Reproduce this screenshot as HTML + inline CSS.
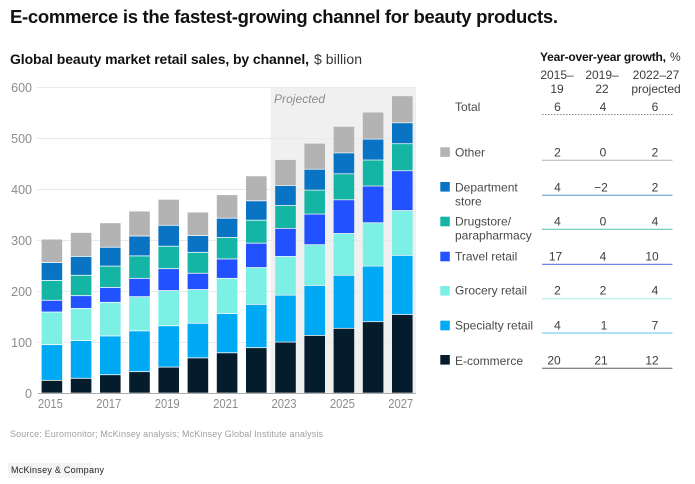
<!DOCTYPE html>
<html lang="en">
<head>
<meta charset="utf-8">
<title>E-commerce is the fastest-growing channel for beauty products</title>
<style>
html,body{margin:0;padding:0;background:#fff;width:695px;height:484px;overflow:hidden}
svg{display:block;font-family:"Liberation Sans",Arial,sans-serif}
.lab{font-size:12px;fill:#4a4a4a}
.val{font-size:12px;fill:#3c3c3c;text-anchor:middle}
.tick{font-size:12.5px;fill:#8c8c8c}
</style>
</head>
<body>
<svg id="chart" width="695" height="484" viewBox="0 0 695 484" xmlns="http://www.w3.org/2000/svg">
  <text x="10" y="23" font-size="18.5" font-weight="bold" fill="#111" textLength="548" lengthAdjust="spacing">E-commerce is the fastest-growing channel for beauty products.</text>
  <text x="10" y="64" font-size="14" font-weight="bold" fill="#111" textLength="299" lengthAdjust="spacing">Global beauty market retail sales, by channel,</text>
  <text x="314" y="64" font-size="14" fill="#333" textLength="48" lengthAdjust="spacing">$ billion</text>

  <rect x="270.7" y="88" width="145.3" height="305.5" fill="#f0f0f0"/>
  <g id="grid"></g>
  <g id="bars"></g>
  <g id="yticks"></g>
  <g id="xticks"></g>
  <line x1="38" x2="416" y1="393.5" y2="393.5" stroke="#ababab" stroke-width="1"/>
  <text x="274" y="103" font-size="12" font-style="italic" fill="#8c8c8c" textLength="51" lengthAdjust="spacing">Projected</text>

  <g>
    <text x="540" y="61" font-size="12" font-weight="bold" fill="#111" textLength="126" lengthAdjust="spacing">Year-over-year growth,</text>
    <text x="670" y="61" font-size="12" fill="#333">%</text>
    <text class="val" x="557" y="79">2015–</text>
    <text class="val" x="557" y="93">19</text>
    <text class="val" x="602" y="79">2019–</text>
    <text class="val" x="602" y="93">22</text>
    <text class="val" x="656" y="79">2022–27</text>
    <text class="val" x="656" y="93">projected</text>

    <text class="lab" x="455" y="111">Total</text>
    <text class="val" x="557.5" y="111">6</text>
    <text class="val" x="603" y="111">4</text>
    <text class="val" x="655" y="111">6</text>
    <line x1="542" x2="672.5" y1="114.5" y2="114.5" stroke="#8a8a8a" stroke-width="1" stroke-dasharray="1.5 1.5"/>

    <rect x="440.3" y="147.3" width="9.5" height="9.6" fill="#b3b3b3"/>
    <text class="lab" x="455" y="156.5">Other</text>
    <text class="val" x="557.5" y="156.5">2</text>
    <text class="val" x="603" y="156.5">0</text>
    <text class="val" x="655" y="156.5">2</text>
    <line x1="542" x2="672.5" y1="160.3" y2="160.3" stroke="#b3b3b3" stroke-width="1"/>

    <rect x="440.3" y="182" width="9.5" height="9.6" fill="#0a74c4"/>
    <text class="lab" x="455" y="191.5">Department</text>
    <text class="lab" x="455" y="205.5">store</text>
    <text class="val" x="557.5" y="191.5">4</text>
    <text class="val" x="601" y="191.5">−2</text>
    <text class="val" x="655" y="191.5">2</text>
    <line x1="542" x2="672.5" y1="195.2" y2="195.2" stroke="#4f97c9" stroke-width="1"/>

    <rect x="440.3" y="216.7" width="9.5" height="9.6" fill="#14b5a5"/>
    <text class="lab" x="455" y="225.5">Drugstore/</text>
    <text class="lab" x="455" y="239.5">parapharmacy</text>
    <text class="val" x="557.5" y="225.5">4</text>
    <text class="val" x="603" y="225.5">0</text>
    <text class="val" x="655" y="225.5">4</text>
    <line x1="542" x2="672.5" y1="229.3" y2="229.3" stroke="#55bdb3" stroke-width="1"/>

    <rect x="440.3" y="251.7" width="9.5" height="9.6" fill="#2251ff"/>
    <text class="lab" x="455" y="260.5">Travel retail</text>
    <text class="val" x="555.5" y="260.5">17</text>
    <text class="val" x="603" y="260.5">4</text>
    <text class="val" x="652" y="260.5">10</text>
    <line x1="542" x2="672.5" y1="264.4" y2="264.4" stroke="#6f86e8" stroke-width="1.2"/>

    <rect x="440.3" y="286" width="9.5" height="9.6" fill="#7cf0e5"/>
    <text class="lab" x="455" y="294.5">Grocery retail</text>
    <text class="val" x="557.5" y="294.5">2</text>
    <text class="val" x="603" y="294.5">2</text>
    <text class="val" x="655" y="294.5">4</text>
    <line x1="542" x2="672.5" y1="298.7" y2="298.7" stroke="#a5eee8" stroke-width="1"/>

    <rect x="440.3" y="320.7" width="9.5" height="9.6" fill="#00a9f4"/>
    <text class="lab" x="455" y="329.5">Specialty retail</text>
    <text class="val" x="557.5" y="329.5">4</text>
    <text class="val" x="604" y="329.5">1</text>
    <text class="val" x="655" y="329.5">7</text>
    <line x1="542" x2="672.5" y1="333" y2="333" stroke="#5cc3e8" stroke-width="1"/>

    <rect x="440.3" y="355" width="9.5" height="9.6" fill="#051c2c"/>
    <text class="lab" x="455" y="365">E-commerce</text>
    <text class="val" x="554" y="364.5">20</text>
    <text class="val" x="601" y="364.5">21</text>
    <text class="val" x="652" y="364.5">12</text>
    <line x1="542" x2="672.5" y1="368.2" y2="368.2" stroke="#5a5f63" stroke-width="1"/>
  </g>

  <text x="10" y="437" font-size="9" fill="#a0a0a0" textLength="313" lengthAdjust="spacing">Source: Euromonitor; McKinsey analysis; McKinsey Global Institute analysis</text>
  <rect x="8" y="463" width="84" height="15" fill="#f4f4f4"/>
  <text x="11" y="473" font-size="9" fill="#222" textLength="93" lengthAdjust="spacing">McKinsey &amp; Company</text>
</svg>
<script>
const years = [2015,2016,2017,2018,2019,2020,2021,2022,2023,2024,2025,2026,2027];
const xTickYears = [2015,2017,2019,2021,2023,2025,2027];
const yTicks = [0,100,200,300,400,500,600];
const eCommerce = [25,29,36,42,51,69,79,89,100,113,127,140,154];
const specialtyRetail = [70,74,76,80,81,68,77,85,92,98,104,109,116];
const groceryRetail = [64,63,66,67,69,66,69,72,76,80,82,85,88];
const travelRetail = [23,25,29,36,43,32,38,48,55,60,66,72,78];
const drugstore = [39,40,42,44,44,41,42,45,45,47,51,51,53];
const departmentStore = [35,37,37,39,41,33,38,38,39,41,41,41,41];
const other = [46,47,48,49,51,46,46,49,51,51,52,53,53];

const stack = [
  ['e-commerce', eCommerce, '#051c2c'],
  ['specialty-retail', specialtyRetail, '#00a9f4'],
  ['grocery-retail', groceryRetail, '#7cf0e5'],
  ['travel-retail', travelRetail, '#2251ff'],
  ['drugstore', drugstore, '#14b5a5'],
  ['department-store', departmentStore, '#0a74c4'],
  ['other', other, '#b3b3b3']
];

const NS = 'http://www.w3.org/2000/svg';
const yScale = function (v) { return 393.5 - v * 0.51; };
const xScale = function (year) { return 41.6 + (year - years[0]) * 29.2; };
const barWidth = 20.6;

const gridGroup = document.getElementById('grid');
const yGroup = document.getElementById('yticks');
yTicks.forEach(function (t) {
  if (t > 0) {
    const line = document.createElementNS(NS, 'line');
    
    
    line.setAttribute('x1', 37);
    line.setAttribute('x2', 416);
    line.setAttribute('y1', yScale(t));
    line.setAttribute('y2', yScale(t));
    line.setAttribute('stroke', '#e9e9e9');
    line.setAttribute('stroke-width', '1');
    gridGroup.appendChild(line);
  }
  const label = document.createElementNS(NS, 'text');
  
  
  label.setAttribute('class', 'tick');
  label.setAttribute('x', 32);
  label.setAttribute('y', yScale(t) + 4.5);
  label.setAttribute('text-anchor', 'end');
  label.textContent = t;
  yGroup.appendChild(label);
});

const xGroup = document.getElementById('xticks');
xTickYears.forEach(function (year) {
  const label = document.createElementNS(NS, 'text');
  
  
  label.setAttribute('class', 'tick');
  label.setAttribute('x', xScale(year) + barWidth / 2 - 1.5);
  label.setAttribute('y', 408);
  label.setAttribute('text-anchor', 'middle');
  label.setAttribute('textLength', '25');
  label.setAttribute('lengthAdjust', 'spacingAndGlyphs');
  label.textContent = year;
  xGroup.appendChild(label);
});

const barGroup = document.getElementById('bars');
years.forEach(function (year, i) {
  let base = 0;
  stack.forEach(function (series) {
    const value = series[1][i];
    const top = yScale(base + value);
    const bottom = yScale(base);
    const rect = document.createElementNS(NS, 'rect');
    
    
    rect.setAttribute('x', xScale(year));
    rect.setAttribute('y', top);
    rect.setAttribute('width', barWidth);
    rect.setAttribute('height', Math.max(0, bottom - top - 0.8));
    rect.setAttribute('fill', series[2]);
    barGroup.appendChild(rect);
    base += value;
  });
});
</script>
</body>
</html>
